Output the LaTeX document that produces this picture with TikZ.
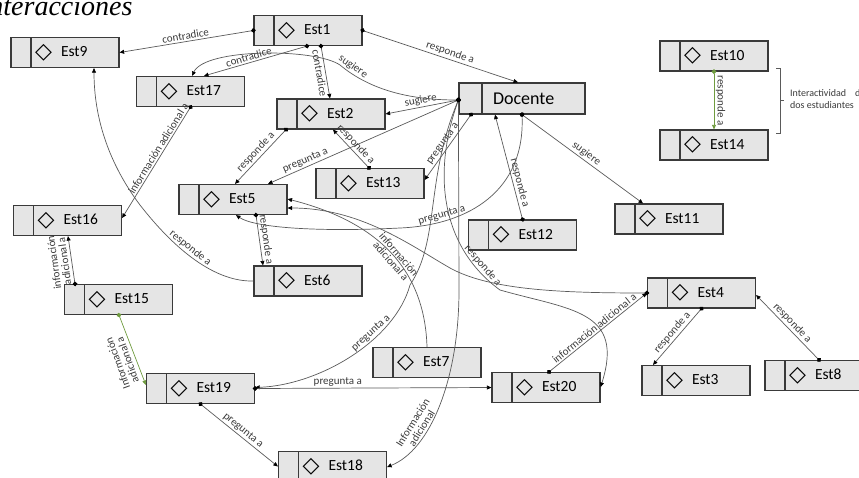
\documentclass[tikz,border=0pt]{standalone}
\usepackage{fontspec}
\setmainfont{Carlito}
\newfontfamily\symf{DejaVu Sans}
\newfontfamily\titf{Liberation Serif}
\usetikzlibrary{arrows.meta}

\definecolor{boxf}{HTML}{E5E5E5}
\definecolor{boxc}{HTML}{3A3A3A}
\definecolor{linec}{HTML}{5A5A5A}
\definecolor{labc}{HTML}{3A3A3A}
\definecolor{verde}{HTML}{6F9B3F}

\newcommand{\dia}{\makebox[26pt][l]{\raisebox{-1.5pt}{\symf\fontsize{22}{22}\selectfont\char"25C7}}}

\tikzset{
  box/.style={draw=boxc, fill=boxf, line width=1.2pt, minimum width=108pt, minimum height=30pt,
    inner sep=0pt, text width=60pt, align=left, font=\fontsize{15.5}{15.5}\selectfont,
    path picture={\draw[boxc, line width=1.2pt] ([xshift=20pt]path picture bounding box.north west)
      -- ([xshift=20pt]path picture bounding box.south west);}},
  docbox/.style={box, minimum width=126pt, minimum height=31pt, text width=58pt,
    font=\fontsize{18}{18}\selectfont,
    path picture={\draw[boxc, line width=1.2pt] ([xshift=23pt]path picture bounding box.north west)
      -- ([xshift=23pt]path picture bounding box.south west);}},
  rel/.style={draw=linec, line width=0.7pt, shorten <=-2.3pt,
    {Circle[length=4.6pt,color=black]}-{Triangle[length=4.5pt,width=4pt,color=black]}},
  relb/.style={draw=linec, line width=0.7pt, -{Triangle[length=4.5pt,width=4pt,color=black]}},
  relg/.style={rel, draw=verde, {Circle[length=4.6pt,color=verde]}-{Triangle[length=4.5pt,width=4pt,color=verde]}},
  lab/.style={font=\fontsize{11}{10.5}\selectfont, text=labc, inner sep=1.5pt}
}

\begin{document}
\begin{tikzpicture}[x=1pt,y=-1pt]
\useasboundingbox (0,0) rectangle (859,477);
\clip (0,0) rectangle (859,477);

\node[anchor=base east, font=\titf\itshape\fontsize{28}{28}\selectfont] (tit) at (136,15) {Interacciones};

% estudiantes
\foreach \n/\x/\y in {1/308/30.5, 9/65/52.5, 17/190.5/91.5, 2/331/114, 10/714/56, 14/714/145,
    11/669/219, 12/522.5/235, 13/370/183.5, 5/233/199.5, 16/67.5/220.5, 15/118.5/299.5,
    6/308/281, 19/200.5/388.5, 18/332.5/466.5, 7/427/362.5, 20/546/387.5, 4/701.5/293,
    3/696/380.5, 8/819/375.5}
  \node[box] (e\n) at (\x,\y) {\dia Est\n};

\node[docbox] (doc) at (522,98.5) {Docente};
\coordinate (dw) at ([yshift=-1.5pt]doc.west);

% Est1
\draw[rel] (e1.west) -- node[lab, above, sloped] {contradice} (e9.east);
\draw[rel] ([xshift=-1pt]e1.south) -- node[lab, above, sloped, pos=0.55] {contradice} ([xshift=13.5pt]e17.north);
\draw[rel] ([xshift=13pt]e1.south) -- node[lab, below, sloped] {contradice} ([xshift=-1pt]e2.north);
\draw[rel] (e1.east) -- node[lab, above, sloped, pos=0.55] {responde a} ([xshift=-4pt]doc.north);

% Docente
\draw[rel] (dw) -- node[lab, above, sloped] {sugiere} (e2.east);
\draw[rel] (dw) .. controls (410,100) and (370,90) .. (340,65) node[lab, above, sloped, pos=0.9] {sugiere}
  .. controls (315,48) and (205,48) .. ([xshift=1.5pt]e17.north);
\draw[rel] (dw) -- node[lab, above, sloped, pos=0.79] {pregunta a} ([xshift=35pt]e5.north);
\draw[rel] ([xshift=-51pt]doc.south) -- node[lab, above, sloped] {pregunta a} ([yshift=3.5pt]e13.east);
\draw[rel] (doc.south) .. controls (525,190) and (470,225) .. (400,228) node[lab, above, sloped, pos=0.78] {pregunta a}
  .. controls (320,232) and (255,228) .. ([xshift=3pt]e5.south);
\draw[rel] (dw) .. controls (425,180) and (440,240) .. (410,285)
  .. controls (395,340) and (320,385) .. ([yshift=1pt]e19.east) node[lab, above, sloped, pos=0.35] {pregunta a};
\draw[rel] (dw) -- (459,290) .. controls (459,380) and (430,450) .. ([yshift=-0.5pt]e18.east)
  node[lab, above, sloped, pos=0.65, align=center] {Información\\adicional};
\draw[rel] (dw) .. controls (430,180) and (445,250) .. (500,290) node[lab, above, sloped, pos=0.85] {responde a}
  .. controls (570,310) and (625,310) .. ([yshift=0.5pt]e20.east);
\draw[rel] (doc.south) -- node[lab, above, sloped] {sugiere} ([xshift=-26pt]e11.north);
\draw[rel] (e12.north) -- node[lab, above, sloped, pos=0.33] {responde a} ([xshift=-27pt]doc.south);

% centro
\draw[rel] ([xshift=-45pt]e2.south) -- node[lab, above, sloped] {responde a} ([xshift=2pt]e5.north);
\draw[rel] ([xshift=-1pt]e13.north) -- node[lab, above, sloped] {responde a} ([xshift=2pt]e2.south);
\draw[rel] ([xshift=23pt]e5.south) -- node[lab, above, sloped] {responde a} ([xshift=-45pt]e6.north);
\draw[relb] (e6.west) .. controls (215,282) and (175,250) .. (140,205) node[lab, above, sloped, pos=0.58] {responde a}
  .. controls (110,165) and (94,120) .. ([xshift=29pt]e9.south);
\draw[relb] (e7.north) .. controls (425,280) and (390,225) .. ([yshift=0.5pt]e5.east)
  node[lab, sloped, midway, align=center] {información\\adicional a};
\draw[rel] (e4.west) .. controls (560,293) and (490,290) .. (450,268)
  .. controls (410,245) and (360,208) .. ([yshift=-8.5pt]e5.east);

% izquierda
\draw[rel] (e17.south) -- node[lab, above, sloped, pos=0.4] {información adicional a} ([yshift=2.5pt]e16.east);
\draw[rel] ([xshift=-43.5pt]e15.north) -- node[lab, rotate=98, above, align=center, inner ysep=3pt] {información\\adicional a} ([xshift=0.5pt]e16.south);
\draw[relg] ([xshift=0.5pt]e15.south) -- node[lab, rotate=110, above, pos=0.6, align=center, inner ysep=4pt] {Información\\adicional a} ([yshift=3.5pt]e19.west);
\draw[rel] (e19.south) -- node[lab, above, sloped] {pregunta a} (e18.west);
\draw[rel] (e19.east) -- node[lab, above, pos=0.35] {pregunta a} (e20.west);

% derecha
\draw[rel] ([xshift=3pt]e20.north) -- node[lab, above, sloped] {información adicional a} (e4.west);
\draw[rel] (e4.south) -- node[lab, above, sloped] {responde a} ([xshift=-43pt]e3.north);
\draw[rel] (e8.north) -- node[lab, above, sloped] {responde a} ([yshift=-2pt]e4.east);
\draw[relg] (e10.south) -- node[lab, rotate=-90, above] {responde a} (e14.north);

\draw[linec, line width=0.6pt] (776,68) -- (780,68) -- (780,133) -- (776,133) (780,100.5) -- (784,100.5);
\node[anchor=north west, font=\fontsize{10}{12}\selectfont, text=labc, align=left, inner sep=0pt] (nota)
  at (790,89.5) {Interactividad\hspace{9pt}d\\dos estudiantes};
\end{tikzpicture}
\end{document}
